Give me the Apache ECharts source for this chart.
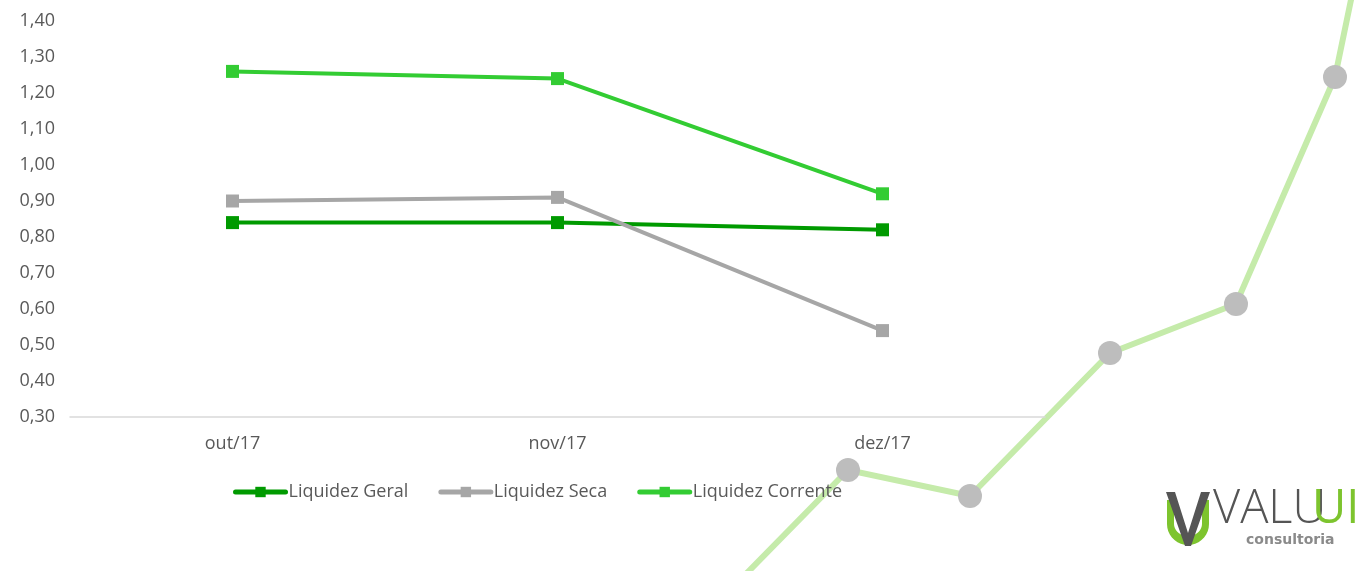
<!DOCTYPE html>
<html>
<head>
<meta charset="utf-8">
<script src="https://cdn.jsdelivr.net/npm/echarts@6/dist/echarts.min.js"></script>
<style>
html,body{margin:0;padding:0;background:#fff;}
#chart{width:1365px;height:571px;}
</style>
</head>
<body>
<div id="chart"></div>
<script>
var categories = ['out/17', 'nov/17', 'dez/17'];
var liquidezGeral = [0.84, 0.84, 0.82];
var liquidezSeca = [0.90, 0.91, 0.54];
var liquidezCorrente = [1.26, 1.24, 0.92];
var seriesNames = ['Liquidez Geral', 'Liquidez Seca', 'Liquidez Corrente'];

var FONT = '"Open Sans", "Noto Sans", sans-serif';
var TXT = '#595959';

function fmt(v){ return v.toFixed(2).replace('.', ','); }

var decoPts = [[745,575],[848,470],[970,496],[1110,353],[1236,304],[1335,77],[1352,-5]];
var decoCircles = [[848,470],[970,496],[1110,353],[1236,304],[1335,77]];

var graphics = [{
  type: 'polyline', z: -10, silent: true,
  shape: { points: decoPts },
  style: { stroke: '#C5EBAA', lineWidth: 6, fill: null }
}];
decoCircles.forEach(function(p){
  graphics.push({ type: 'circle', z: -9, silent: true, shape: { cx: p[0], cy: p[1], r: 12 }, style: { fill: '#BDBDBD' } });
});
// logo: green U (polygon outline of two arcs)
(function(){
  var cx = 1188, cy = 524, ro = 21, ri = 14, top = 500, pts = [];
  pts.push([cx - ro, top]);
  for (var a = 180; a >= 0; a -= 10) {
    var r = a * Math.PI / 180;
    pts.push([cx + ro * Math.cos(r), cy + ro * Math.sin(r)]);
  }
  pts.push([cx + ro, top]);
  pts.push([cx + ri, top]);
  for (var b = 0; b <= 180; b += 10) {
    var s = b * Math.PI / 180;
    pts.push([cx + ri * Math.cos(s), cy + (ri - 2) * Math.sin(s)]);
  }
  pts.push([cx - ri, top]);
  graphics.push({ type: 'polygon', z: -5, silent: true, shape: { points: pts }, style: { fill: '#7DC42E' } });
})();
graphics.push({ type: 'polygon', z: -4, silent: true,
  shape: { points: [[1166,492],[1175,492],[1188,533],[1201,492],[1210,492],[1191,546],[1185,546]] },
  style: { fill: '#555555' } });
graphics.push({ type: 'text', z: -4, silent: true, x: 1213, y: 486,
  style: { text: 'VALU', fill: '#555555', font: '300 47px "Open Sans", sans-serif' } });
graphics.push({ type: 'text', z: -4, silent: true, x: 1312, y: 486,
  style: { text: 'UI', fill: '#7DC42E', font: '400 47px "Open Sans", sans-serif' } });
graphics.push({ type: 'text', z: -4, silent: true, x: 1246, y: 533,
  style: { text: 'consultoria', fill: '#8A8A8A', font: '600 14px "DejaVu Sans", sans-serif' } });

var chart = echarts.init(document.getElementById('chart'));
var mk = function(name, data, color){
  return {
    name: name, type: 'line', data: data,
    symbol: 'rect', symbolSize: 13,
    lineStyle: { color: color, width: 4 },
    itemStyle: { color: color },
    emphasis: { disabled: true }
  };
};
chart.setOption({
  animation: false,
  backgroundColor: '#ffffff',
  graphic: graphics,
  grid: { left: 70, right: 320, top: 21, bottom: 154, containLabel: false },
  legend: {
    bottom: 65, left: 228,
    itemWidth: 50, itemHeight: 13, itemGap: 30,
    lineStyle: { width: 5, cap: 'round' },
    textStyle: { color: TXT, fontSize: 18, fontFamily: FONT, padding: [0, 0, 0, -2] },
    data: seriesNames
  },
  xAxis: {
    type: 'category', data: categories, boundaryGap: true,
    axisLine: { lineStyle: { color: '#D9D9D9', width: 1.5 } },
    axisTick: { show: false },
    axisLabel: { color: TXT, fontSize: 18, fontFamily: FONT, margin: 18 }
  },
  yAxis: {
    type: 'value', min: 0.3, max: 1.4, interval: 0.1,
    axisLine: { show: false }, axisTick: { show: false },
    splitLine: { show: false },
    axisLabel: { color: TXT, fontSize: 18, fontFamily: FONT, margin: 15, formatter: fmt }
  },
  series: [
    mk(seriesNames[0], liquidezGeral, '#009A00'),
    mk(seriesNames[1], liquidezSeca, '#A6A6A6'),
    mk(seriesNames[2], liquidezCorrente, '#33CC33')
  ]
});
</script>
</body>
</html>
